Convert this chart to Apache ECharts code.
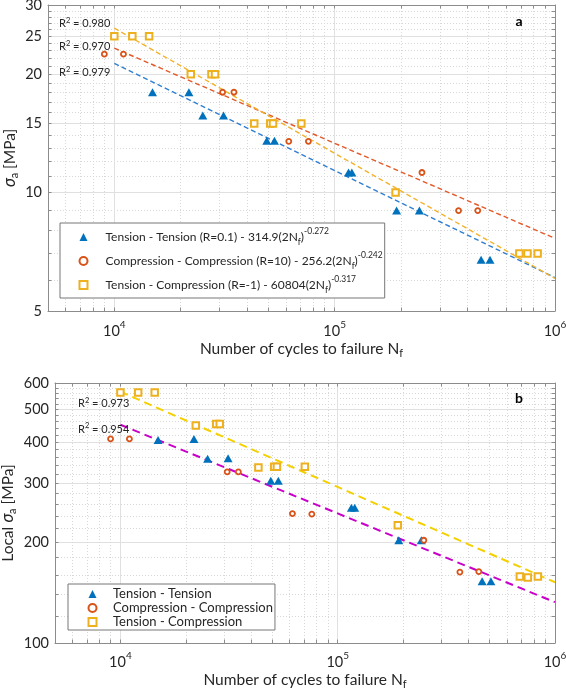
<!DOCTYPE html>
<html><head><meta charset="utf-8">
<script src="https://cdn.jsdelivr.net/npm/echarts@6/dist/echarts.min.js"></script>
<style>html,body{margin:0;padding:0;background:#fff}#c{width:566px;height:695px}</style>
</head><body><div id="c"></div>
<script>
// ---------------- data ----------------
// cycles to failure for each loading type
const nTT = [14900, 21800, 25200, 31300, 49200, 53300, 115600, 119700, 191000, 242500, 462000, 507000];
const nCC = [9010, 11000, 31000, 34900, 61900, 76000, 249000, 365000, 446000];
const nTC = [10000, 12070, 14380, 22230, 27600, 28650, 43150, 51000, 52500, 70600, 189000, 689000, 750000, 834000];
// nominal stress amplitude [MPa] (panel a)
const sTT = [18.0, 18.0, 15.7, 15.7, 13.55, 13.55, 11.25, 11.25, 9.0, 9.0, 6.75, 6.75];
const sCC = [22.5, 22.5, 18.0, 18.0, 13.5, 13.5, 11.25, 9.0, 9.0];
const sTC = [25, 25, 25, 20, 20, 20, 15, 15, 15, 15, 10, 7, 7, 7];
// local stress amplitude [MPa] (panel b)
const localTT = [405, 408, 356, 357, 306, 306, 254, 254, 203, 203, 153, 153];
const localCC = [408, 408, 325, 325, 244, 243, 203, 163, 163.5];
const localTC = [562, 562, 562, 448, 452, 452, 335, 337, 337, 337, 225, 158, 157, 158];
// fitted lines: end points (N, stress)
const fitN = [10000, 1000000];
const fitTT = [21.3, 6.08];
const fitCC = [23.3, 7.65];
const fitTC = [26.2, 6.05];
const fitLocalTC = [565, 152];
const fitLocalTT = [450, 132.5];
// texts
const r2Top = ['0.980', '0.970', '0.979'];
const r2Bottom = ['0.973', '0.954'];
const legendTop = [
  'Tension - Tension (R=0.1) - 314.9(2N{sub|f}){sup|-0.272}',
  'Compression - Compression (R=10) - 256.2(2N{sub|f}){sup|-0.242}',
  'Tension - Compression (R=-1) - 60804(2N{sub|f}){sup|-0.317}'
];
const legendBottom = ['Tension - Tension', 'Compression - Compression', 'Tension - Compression'];
// tick labels
const xMajor = [10000, 100000, 1000000];
const yTopLabels = [5, 10, 15, 20, 25, 30];
const yBotLabels = [100, 200, 300, 400, 500, 600];
const xRange = [5000, 1000000];

// ---------------- helpers ----------------
const FONT = 'Lato, "Noto Sans", sans-serif';
const TXT = '#262626';
const AX = '#8c8c8c';
const L = Math.log10;
function pts(ns, ss) { return ns.map((n, i) => [L(n), L(ss[i])]); }

const xMinor = [];
[1000, 10000, 100000].forEach(d => { for (let k = 2; k <= 9; k++) { const v = k * d; if (v >= xRange[0] && v <= xRange[1]) xMinor.push(v); } });
const yTopMinor = []; for (let v = 5; v <= 30; v++) if (yTopLabels.indexOf(v) < 0) yTopMinor.push(v);
const yBotMinor = []; for (let v = 100; v <= 600; v += 20) if (yBotLabels.indexOf(v) < 0) yBotMinor.push(v);

function rich(fs) {
  return {
    sup: {fontFamily: FONT, fontSize: fs, lineHeight: fs + 1, verticalAlign: 'top', color: TXT},
    sub: {fontFamily: FONT, fontSize: fs, lineHeight: fs + 1, verticalAlign: 'bottom', color: TXT},
    g: {fontFamily: '"Noto Sans", sans-serif', fontStyle: 'italic', fontSize: 16, lineHeight: 20, color: TXT}
  };
}

function buildAxes(g, isX, lo, hi, majorVals, minorVals, fmt, labelMargin, name, nameGap) {
  const min = L(lo), max = L(hi);
  const maj = majorVals.map(L), all = majorVals.concat(minorVals).map(L);
  const common = {type: 'value', gridIndex: g, min: min, max: max};
  const main = Object.assign({}, common, {
    position: isX ? 'bottom' : 'left',
    axisLine: {show: true, onZero: false, lineStyle: {color: AX, width: 1}},
    axisTick: {show: true, inside: true, length: 3.5, customValues: all, lineStyle: {color: AX, width: 1}},
    axisLabel: {show: true, customValues: maj, formatter: fmt, margin: labelMargin, color: TXT,
      fontFamily: FONT, fontSize: 14.5, lineHeight: isX ? 22 : 16, rich: rich(10), hideOverlap: false},
    splitLine: {show: true, lineStyle: {color: '#d8d8d8', type: [1, 2], width: 1}},
    name: name, nameLocation: 'middle', nameGap: nameGap, nameRotate: isX ? 0 : 90, nameMoveOverlap: false,
    nameTextStyle: {fontFamily: FONT, fontSize: 15.5, color: TXT, lineHeight: 20, rich: rich(11)}
  });
  const major = Object.assign({}, common, {
    position: isX ? 'bottom' : 'left',
    axisLine: {show: false, onZero: false}, axisTick: {show: false, customValues: maj},
    axisLabel: {show: false}, splitLine: {show: true, lineStyle: {color: '#e0e0e0', width: 1}}
  });
  const mirror = Object.assign({}, common, {
    position: isX ? 'top' : 'right',
    axisLine: {show: true, onZero: false, lineStyle: {color: AX, width: 1}},
    axisTick: {show: true, inside: true, length: 3.5, customValues: all, lineStyle: {color: AX, width: 1}},
    axisLabel: {show: false}, splitLine: {show: false}
  });
  return [main, major, mirror];
}

const fmtX = v => '10{sup|' + Math.round(v) + '}';
const fmtY = v => String(Math.round(Math.pow(10, v)));
const xName = 'Number of cycles to failure N{sub|f}';

const xAxes = [].concat(
  buildAxes(0, true, xRange[0], xRange[1], xMajor, xMinor, fmtX, 9, xName, 28),
  buildAxes(1, true, xRange[0], xRange[1], xMajor, xMinor, fmtX, 8, xName, 27)
);
const yAxes = [].concat(
  buildAxes(0, false, 5, 30, yTopLabels, yTopMinor, fmtY, 6, '{g|σ}{sub|a} [MPa]', 28),
  buildAxes(1, false, 100, 600, yBotLabels, yBotMinor, fmtY, 6, 'Local {g|σ}{sub|a} [MPa]', 37)
);

const C_BLUE = '#0072BD', C_ORG = '#D95319', C_YEL = '#EDB120';
function scatter(name, data, axis, kind) {
  const s = {name: name, type: 'scatter', xAxisIndex: axis, yAxisIndex: axis, data: data, z: 5};
  if (kind === 'tri') { s.symbol = 'triangle'; s.symbolSize = [9, 8]; s.itemStyle = {color: C_BLUE, opacity: 1}; }
  if (kind === 'cir') { s.symbol = 'circle'; s.symbolSize = 5; s.itemStyle = {color: '#fff', borderColor: C_ORG, borderWidth: 1.8, opacity: 1}; }
  if (kind === 'sq') { s.symbol = 'rect'; s.symbolSize = 6.5; s.itemStyle = {color: '#fff', borderColor: C_YEL, borderWidth: 2, opacity: 1}; }
  return s;
}
function fit(data, axis, color, width, dash) {
  return {type: 'line', xAxisIndex: axis, yAxisIndex: axis, data: data, symbol: 'none', silent: true, z: 3,
    lineStyle: {color: color, width: width, type: dash}};
}

const nameMap = {};
['TTa', 'CCa', 'TCa'].forEach((k, i) => nameMap[k] = legendTop[i]);
['TTb', 'CCb', 'TCb'].forEach((k, i) => nameMap[k] = legendBottom[i]);

const series = [
  fit(pts(fitN, fitTT), 0, '#2E7ED0', 1.4, [5, 3]),
  fit(pts(fitN, fitCC), 0, '#E2592A', 1.4, [5, 3]),
  fit(pts(fitN, fitTC), 0, '#F2B22A', 1.4, [5, 3]),
  scatter('TTa', pts(nTT, sTT), 0, 'tri'),
  scatter('CCa', pts(nCC, sCC), 0, 'cir'),
  scatter('TCa', pts(nTC, sTC), 0, 'sq'),
  fit(pts(fitN, fitLocalTC), 3, '#F5D000', 2, [8, 5]),
  fit(pts(fitN, fitLocalTT), 3, '#C800C8', 2, [8, 5]),
  scatter('TTb', pts(nTT, localTT), 3, 'tri'),
  scatter('CCb', pts(nCC, localCC), 3, 'cir'),
  scatter('TCb', pts(nTC, localTC), 3, 'sq')
];

function r2Text(x, y, val) {
  return {type: 'text', x: x, y: y, z: 10, style: {
    text: 'R{sup|2} = ' + val, fill: TXT, fontFamily: FONT, fontSize: 11, lineHeight: 14,
    verticalAlign: 'middle', align: 'left',
    rich: {sup: {fontFamily: FONT, fontSize: 7.5, lineHeight: 8, verticalAlign: 'top', fill: TXT}}
  }};
}

const option = {
  animation: false,
  backgroundColor: '#fff',
  textStyle: {fontFamily: FONT},
  grid: [
    {left: 48, right: 11, top: 5, height: 306, containLabel: false, outerBoundsMode: 'none'},
    {left: 55, right: 11, top: 383, height: 260, containLabel: false, outerBoundsMode: 'none'}
  ],
  xAxis: xAxes,
  yAxis: yAxes,
  legend: [
    {data: ['TTa', 'CCa', 'TCa'], orient: 'vertical', left: 60, top: 223, itemWidth: 8, itemHeight: 8, itemGap: 4,
      padding: [4, 2, 3, 18.5], backgroundColor: '#fff', borderColor: '#777', borderWidth: 1, selectedMode: false,
      formatter: n => nameMap[n],
      textStyle: {fontFamily: FONT, fontSize: 12, color: TXT, lineHeight: 20, padding: [0, 0, 0, 13], rich: rich(8.5)}},
    {data: ['TTb', 'CCb', 'TCb'], orient: 'vertical', left: 68, top: 584, itemWidth: 8, itemHeight: 8, itemGap: 0,
      padding: [3, 2, 1, 19.5], backgroundColor: '#fff', borderColor: '#777', borderWidth: 1, selectedMode: false,
      formatter: n => nameMap[n],
      textStyle: {fontFamily: FONT, fontSize: 13, color: TXT, lineHeight: 14, padding: [0, 0, 0, 11.5]}}
  ],
  graphic: [
    r2Text(59, 23.3, r2Top[0]), r2Text(59, 46.7, r2Top[1]), r2Text(59, 72.7, r2Top[2]),
    r2Text(78, 403.3, r2Bottom[0]), r2Text(78, 429, r2Bottom[1]),
    {type: 'text', x: 519, y: 21, z: 10, style: {text: 'a', fill: '#000', fontFamily: FONT, fontWeight: 'bold', fontSize: 14, align: 'center', verticalAlign: 'middle'}},
    {type: 'text', x: 519, y: 398, z: 10, style: {text: 'b', fill: '#000', fontFamily: FONT, fontWeight: 'bold', fontSize: 14, align: 'center', verticalAlign: 'middle'}}
  ],
  series: series
};
const chart = echarts.init(document.getElementById('c'), null, {renderer: 'canvas'});
chart.setOption(option);
</script>
</body></html>
